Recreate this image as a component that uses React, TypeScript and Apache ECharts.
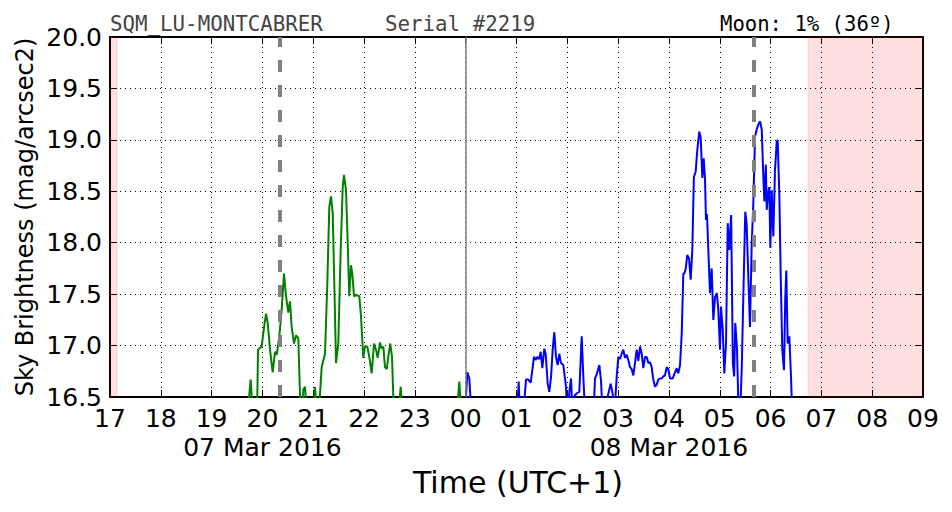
import React, { useEffect, useRef } from "react";
import * as echarts from "echarts";

// Hours counted from 17:00 on 07 Mar 2016 (UTC+1)
const startHour = 17;
const dateLabels: Record<number, string> = { 3: "07 Mar 2016", 11: "08 Mar 2016" };

const stationName = "SQM_LU-MONTCABRER";
const serialText = "Serial #2219";
const moonText = "Moon: 1% (36º)";

// Sky brightness series (values below 16.5 fall out of the plot)
const eveningHours = [
  2.70, 2.769, 2.814, 2.893, 2.913, 2.985, 3.017, 3.070, 3.104, 3.149, 3.202, 3.247, 3.281, 3.332,
  3.379, 3.424, 3.464, 3.509, 3.542, 3.576, 3.621, 3.661, 3.706, 3.753, 3.789, 3.804, 3.838, 3.877,
  3.995, 4.034, 4.074, 4.123, 4.166, 4.231, 4.277, 4.316, 4.349, 4.383, 4.414, 4.448, 4.493, 4.540,
  4.580, 4.605, 4.645, 4.678, 4.709, 4.743, 4.769, 4.802, 4.855, 4.906, 4.940, 4.985, 5.018, 5.064,
  5.103, 5.150, 5.196, 5.235, 5.268, 5.314, 5.347, 5.379, 5.412, 5.446, 5.485, 5.516, 5.550, 5.589,
  5.668, 5.721, 5.760, 6.823, 6.874, 6.918,
];
const eveningMag = [
  16.3, 16.67, 16.3, 16.3, 16.96, 16.99, 17.12, 17.31, 17.22, 16.96, 16.74, 16.94, 16.91, 17.09,
  17.35, 17.70, 17.48, 17.32, 17.43, 17.18, 17.02, 17.10, 17.07, 16.3, 16.3, 16.57, 16.60, 16.3,
  16.3, 16.60, 16.3, 16.45, 16.79, 16.92, 17.61, 18.35, 18.45, 18.29, 17.61, 16.83, 17.02, 17.93,
  18.54, 18.66, 18.51, 18.00, 17.48, 17.78, 17.70, 17.48, 17.49, 17.48, 17.28, 16.88, 16.99, 16.99,
  16.89, 16.73, 17.02, 16.96, 16.88, 17.03, 16.97, 16.99, 16.79, 16.77, 16.92, 17.02, 16.89, 16.3,
  16.3, 16.60, 16.3, 16.3, 16.65, 16.3,
];

const morningHours = [
  6.986, 7.032, 7.071, 7.118, 8.010, 8.043, 8.069, 8.128, 8.187, 8.232, 8.279, 8.319, 8.344, 8.384,
  8.409, 8.449, 8.476, 8.508, 8.547, 8.574, 8.614, 8.646, 8.679, 8.712, 8.744, 8.777, 8.810, 8.843,
  8.876, 8.921, 8.974, 9.000, 9.040, 9.073, 9.106, 9.151, 9.197, 9.236, 9.283, 9.315, 9.354, 9.512,
  9.545, 9.578, 9.630, 9.663, 9.697, 9.806, 9.853, 9.893, 9.924, 9.972, 10.004, 10.037, 10.070,
  10.102, 10.135, 10.169, 10.201, 10.234, 10.267, 10.299, 10.332, 10.365, 10.398, 10.431, 10.464,
  10.496, 10.529, 10.562, 10.594, 10.627, 10.660, 10.692, 10.726, 10.759, 10.791, 10.824, 10.858,
  10.889, 10.922, 10.956, 10.988, 11.021, 11.074, 11.119, 11.152, 11.184, 11.218, 11.252, 11.283,
  11.303, 11.331, 11.361, 11.395, 11.428, 11.460, 11.491, 11.526, 11.558, 11.597, 11.625, 11.657,
  11.684, 11.710, 11.729, 11.749, 11.775, 11.808, 11.841, 11.874, 11.907, 11.943, 11.971, 12.005,
  12.024, 12.058, 12.090, 12.123, 12.157, 12.188, 12.224, 12.258, 12.283, 12.306, 12.340, 12.373,
  12.398, 12.432, 12.464, 12.502, 12.529, 12.562, 12.595, 12.629, 12.661, 12.694, 12.727, 12.760,
  12.793, 12.826, 12.858, 12.878, 12.906, 12.925, 12.950, 12.975, 12.995, 13.023, 13.054, 13.087,
  13.121, 13.140, 13.172, 13.200, 13.231, 13.264, 13.290, 13.310, 13.337, 13.369, 13.402, 13.428,
];
const morningMag = [
  16.3, 16.74, 16.68, 16.3, 16.3, 16.65, 16.3, 16.3, 16.67, 16.67, 16.64, 16.79, 16.89, 16.86,
  16.89, 16.87, 16.94, 16.78, 16.97, 16.92, 16.63, 16.55, 16.69, 16.96, 17.13, 16.89, 16.81, 16.92,
  16.83, 16.81, 16.60, 16.3, 16.55, 16.68, 16.3, 16.52, 16.54, 16.55, 17.09, 16.70, 16.3, 16.3,
  16.68, 16.72, 16.81, 16.66, 16.3, 16.53, 16.63, 16.53, 16.3, 16.70, 16.89, 16.87, 16.92,
  16.96, 16.88, 16.91, 16.86, 16.79, 16.77, 16.71, 16.83, 16.96, 16.85, 16.99, 16.92,
  16.78, 16.89, 16.89, 16.83, 16.84, 16.79, 16.67, 16.60, 16.62, 16.67, 16.68, 16.68,
  16.70, 16.71, 16.79, 16.77, 16.68, 16.68, 16.74, 16.78, 16.73, 16.81, 17.12, 17.70,
  17.70, 17.75, 17.88, 17.85, 17.64, 17.93, 18.64, 18.69, 18.90, 19.08, 19.02, 18.63,
  18.82, 18.62, 18.22, 18.28, 17.93, 17.51, 17.75, 17.25, 17.47, 17.51, 17.35, 16.96,
  17.38, 17.16, 16.73, 17.02, 18.19, 17.93, 18.27, 16.83, 16.70, 17.22, 16.96, 16.3,
  16.3, 16.76, 17.48, 18.30, 18.19, 17.67, 17.18, 17.99, 18.38, 19.03, 19.10, 19.15,
  19.18, 19.10, 18.64, 18.40, 18.76, 18.32, 18.48, 18.54, 17.95, 18.51, 18.06, 18.70,
  18.98, 19.00, 18.48, 17.67, 16.96, 16.76, 17.48, 17.73, 17.02, 17.09, 16.70, 16.3,
];

// Twilight markers, midnight and daylight bands (hours from 17:00)
const twilightHours = [3.346, 12.674];
const midnightHour = 7.0;
const daylightBands = [
  [0, 0.138],
  [13.737, 16],
];

const yTicks = { min: 16.5, max: 20.0, step: 0.5 };
const xRange = { min: 0, max: 16, step: 1 };

const FONT = "DejaVu Sans";
const MONO = "DejaVu Sans Mono";

export default function App() {
  const ref = useRef<HTMLDivElement>(null);

  useEffect(() => {
    if (!ref.current) return;
    const chart = echarts.init(ref.current, null, { renderer: "svg" });

    const evening = eveningHours.map((h, i) => [h, eveningMag[i]]);
    const morning = morningHours.map((h, i) => [h, morningMag[i]]);

    const hourLabel = (v: number) => {
      const hh = String((startHour + Math.round(v)) % 24).padStart(2, "0");
      const d = dateLabels[Math.round(v)];
      return d ? `${hh}\n${d}` : hh;
    };

    const axisLine = { show: true, onZero: false, lineStyle: { color: "#000", width: 2 } };
    const tick = { show: true, inside: true, length: 7, lineStyle: { color: "#000", width: 1 } };

    chart.setOption({
      animation: false,
      backgroundColor: "#fff",
      grid: {
        left: 110,
        right: 29,
        top: 37,
        bottom: 115,
        containLabel: false,
        outerBoundsMode: "none",
      },
      xAxis: [
        {
          type: "value",
          min: xRange.min,
          max: xRange.max,
          interval: xRange.step,
          position: "bottom",
          axisLine,
          axisTick: tick,
          axisLabel: {
            show: true,
            formatter: hourLabel,
            fontFamily: FONT,
            fontSize: 25,
            color: "#000",
            margin: 7,
            lineHeight: 29,
            showMinLabel: true,
            showMaxLabel: true,
            hideOverlap: false,
          },
          splitLine: {
            show: true,
            lineStyle: { color: "#000", width: 1, type: [1, 4] },
          },
        },
        {
          type: "value",
          min: xRange.min,
          max: xRange.max,
          interval: xRange.step,
          position: "top",
          axisLine,
          axisTick: tick,
          axisLabel: { show: false },
          splitLine: { show: false },
        },
      ],
      yAxis: [
        {
          type: "value",
          min: yTicks.min,
          max: yTicks.max,
          interval: yTicks.step,
          position: "left",
          axisLine,
          axisTick: tick,
          axisLabel: {
            formatter: (v: number) => v.toFixed(1),
            fontFamily: FONT,
            fontSize: 25,
            color: "#000",
            margin: 8,
            showMinLabel: true,
            showMaxLabel: true,
          },
          splitLine: {
            show: true,
            lineStyle: { color: "#000", width: 1, type: [1, 4] },
          },
        },
        {
          type: "value",
          min: yTicks.min,
          max: yTicks.max,
          interval: yTicks.step,
          position: "right",
          axisLine,
          axisTick: tick,
          axisLabel: { show: false },
          splitLine: { show: false },
        },
      ],
      series: [
        {
          type: "line",
          name: "bands",
          data: [],
          silent: true,
          markArea: {
            silent: true,
            itemStyle: {
              color: "rgba(255,0,0,0.12)",
              borderColor: "rgba(255,0,0,0.12)",
              borderWidth: 1,
            },
            data: daylightBands.map(([a, b]) => [{ xAxis: a }, { xAxis: b }]),
          },
          z: 1,
        },
        {
          type: "line",
          name: "evening",
          data: evening,
          showSymbol: false,
          clip: true,
          lineStyle: { color: "#008000", width: 2 },
          itemStyle: { color: "#008000" },
          z: 3,
        },
        {
          type: "line",
          name: "morning",
          data: morning,
          showSymbol: false,
          clip: true,
          lineStyle: { color: "#0000ff", width: 2 },
          itemStyle: { color: "#0000ff" },
          z: 3,
        },
        {
          type: "line",
          name: "markers",
          data: [],
          silent: true,
          z: 4,
          markLine: {
            silent: true,
            symbol: "none",
            label: { show: false },
            data: [
              ...twilightHours.map((h) => ({
                xAxis: h,
                lineStyle: { color: "#808080", width: 4, type: [12, 13] },
              })),
              {
                xAxis: midnightHour,
                lineStyle: { color: "#808080", width: 1.5, type: "solid" },
              },
            ],
          },
        },
      ],
      graphic: [
        {
          type: "text",
          left: 110,
          top: 13,
          style: { text: stationName, fontFamily: MONO, fontSize: 20.8, fill: "#444" },
        },
        {
          type: "text",
          left: 385,
          top: 13,
          style: { text: serialText, fontFamily: MONO, fontSize: 20.8, fill: "#444" },
        },
        {
          type: "text",
          left: 720,
          top: 13,
          style: { text: moonText, fontFamily: MONO, fontSize: 20.6, fill: "#000" },
        },
        {
          type: "text",
          x: 518,
          y: 482,
          style: {
            text: "Time (UTC+1)",
            fontFamily: FONT,
            fontSize: 30,
            fill: "#000",
            align: "center",
            verticalAlign: "middle",
          },
        },
        {
          type: "text",
          x: 25,
          y: 217,
          rotation: Math.PI / 2,
          style: {
            text: "Sky Brightness (mag/arcsec2)",
            fontFamily: FONT,
            fontSize: 24,
            fill: "#000",
            align: "center",
            verticalAlign: "middle",
          },
        },
      ],
    });

    return () => chart.dispose();
  }, []);

  return <div ref={ref} style={{ width: 952, height: 512, position: "absolute", left: 0, top: 0 }} />;
}
